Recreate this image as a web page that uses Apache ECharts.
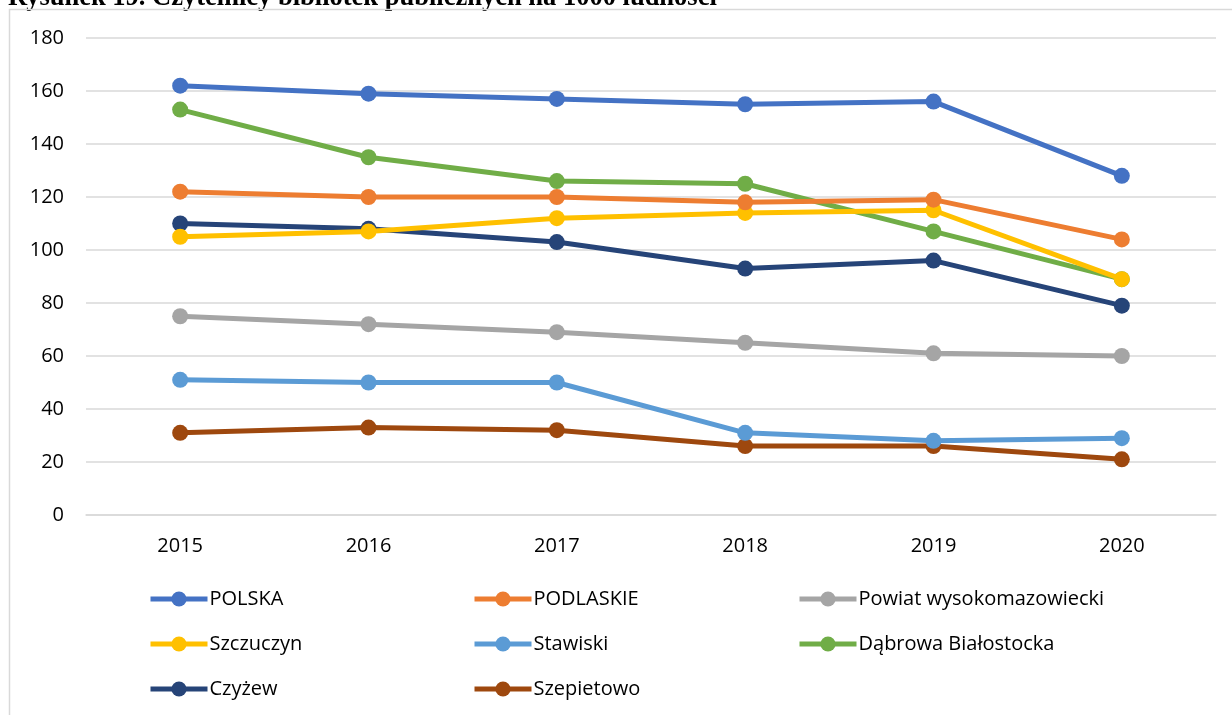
<!DOCTYPE html>
<html>
<head>
<meta charset="utf-8">
<script src="https://cdn.jsdelivr.net/npm/echarts@6/dist/echarts.min.js"></script>
<style>
    html, body { margin: 0; padding: 0; background: #fff; }
    #chart { width: 1232px; height: 715px; }
</style>
</head>
<body>
<div id="chart"></div>
<script>
// lata
var years = ['2015', '2016', '2017', '2018', '2019', '2020'];

// czytelnicy na 1000 ludności
var polska = [162, 159, 157, 155, 156, 128];
var podlaskie = [122, 120, 120, 118, 119, 104];
var powiat = [75, 72, 69, 65, 61, 60];
var szczuczyn = [105, 107, 112, 114, 115, 89];
var stawiski = [51, 50, 50, 31, 28, 29];
var dabrowa = [153, 135, 126, 125, 107, 89];
var czyzew = [110, 108, 103, 93, 96, 79];
var szepietowo = [31, 33, 32, 26, 26, 21];

var yTicks = [0, 20, 40, 60, 80, 100, 120, 140, 160, 180];

var names = ['POLSKA', 'PODLASKIE', 'Powiat wysokomazowiecki', 'Szczuczyn', 'Stawiski',
    'Dąbrowa Białostocka', 'Czyżew', 'Szepietowo'];
var values = [polska, podlaskie, powiat, szczuczyn, stawiski, dabrowa, czyzew, szepietowo];
var colors = ['#4472C4', '#ED7D31', '#A5A5A5', '#FFC000', '#5B9BD5', '#70AD47', '#264478', '#9E480E'];

var font = '"Open Sans", "Noto Sans", sans-serif';

var series = names.map(function (n, i) {
    return {
        name: n,
        type: 'line',
        data: values[i],
        symbol: 'circle',
        symbolSize: 16,
        color: colors[i],
        lineStyle: { width: 5, color: colors[i] },
        itemStyle: { color: colors[i] },
        z: 10 - i
    };
});

function legendCol(left, data) {
    return {
        left: left,
        top: 589,
        padding: 0,
        orient: 'vertical',
        itemWidth: 57,
        itemHeight: 19,
        itemGap: 25,
        lineStyle: { width: 5 },
        data: data,
        textStyle: { fontFamily: font, fontSize: 20, color: '#000', padding: [0, 0, 0, -3] }
    };
}

var myChart = echarts.init(document.getElementById('chart'));
var option = {
    backgroundColor: '#fff',
    animation: false,
    graphic: [
        {
            type: 'rect',
            shape: { x: 9.5, y: 9.5, width: 1300, height: 800 },
            style: { fill: 'none', stroke: '#d9d9d9', lineWidth: 1.5 },
            silent: true
        },
        {
            type: 'text',
            x: 8,
            y: 12,
            style: {
                text: 'Rysunek 19. Czytelnicy bibliotek publicznych na 1000 ludności',
                font: 'bold 26.5px "Liberation Serif", "Times New Roman", serif',
                fill: '#000',
                verticalAlign: 'bottom'
            },
            z: -1
        }
    ],
    grid: { left: 86, top: 38, width: 1130, height: 477, containLabel: false },
    legend: [
        legendCol(148, ['POLSKA', 'Szczuczyn', 'Czyżew']),
        legendCol(472, ['PODLASKIE', 'Stawiski', 'Szepietowo']),
        legendCol(797, ['Powiat wysokomazowiecki', 'Dąbrowa Białostocka'])
    ],
    xAxis: {
        type: 'category',
        data: years,
        boundaryGap: true,
        axisLine: { show: true, lineStyle: { color: '#d9d9d9', width: 1.5 } },
        axisTick: { show: false },
        axisLabel: { fontFamily: font, fontSize: 20, color: '#000', margin: 21 }
    },
    yAxis: {
        type: 'value',
        min: 0,
        max: 180,
        interval: 20,
        axisLine: { show: false },
        axisTick: { show: false },
        splitLine: { lineStyle: { color: '#d9d9d9', width: 1.5 } },
        axisLabel: {
            fontFamily: font, fontSize: 20, color: '#000', margin: 22,
            formatter: function (v) { return yTicks.indexOf(v) >= 0 ? String(v) : ''; }
        }
    },
    series: series
};
option && myChart.setOption(option);
</script>
</body>
</html>
